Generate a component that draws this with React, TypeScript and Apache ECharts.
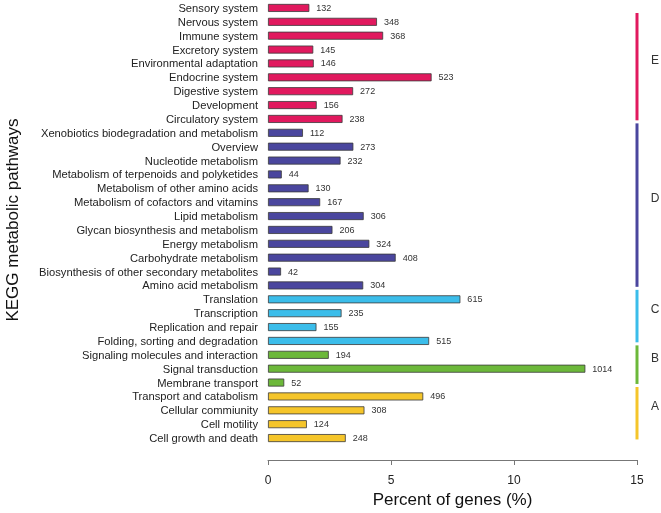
import React, { useEffect, useRef } from "react";
import * as echarts from "echarts";

// Categories listed bottom -> top
const categories = [
  "Cell growth and death",
  "Cell motility",
  "Cellular commiunity",
  "Transport and catabolism",
  "Membrane transport",
  "Signal transduction",
  "Signaling molecules and interaction",
  "Folding, sorting and degradation",
  "Replication and repair",
  "Transcription",
  "Translation",
  "Amino acid metabolism",
  "Biosynthesis of other secondary metabolites",
  "Carbohydrate metabolism",
  "Energy metabolism",
  "Glycan biosynthesis and metabolism",
  "Lipid metabolism",
  "Metabolism of cofactors and vitamins",
  "Metabolism of other amino acids",
  "Metabolism of terpenoids and polyketides",
  "Nucleotide metabolism",
  "Overview",
  "Xenobiotics biodegradation and metabolism",
  "Circulatory system",
  "Development",
  "Digestive system",
  "Endocrine system",
  "Environmental adaptation",
  "Excretory system",
  "Immune system",
  "Nervous system",
  "Sensory system",
];

const percents = [
  3.16, 1.58, 3.92, 6.31,
  0.66, 12.9, 2.47,
  6.55, 1.97, 2.99, 7.82,
  3.87, 0.53, 5.19, 4.12, 2.62, 3.89, 2.12, 1.65, 0.56, 2.95, 3.47, 1.42,
  3.03, 1.98, 3.46, 6.65, 1.86, 1.84, 4.68, 4.43, 1.68,
];

const counts = [
  248, 124, 308, 496,
  52, 1014, 194,
  515, 155, 235, 615,
  304, 42, 408, 324, 206, 306, 167, 130, 44, 232, 273, 112,
  238, 156, 272, 523, 146, 145, 368, 348, 132,
];

const groupOf = [
  "A", "A", "A", "A",
  "B", "B", "B",
  "C", "C", "C", "C",
  "D", "D", "D", "D", "D", "D", "D", "D", "D", "D", "D", "D",
  "E", "E", "E", "E", "E", "E", "E", "E", "E",
];

const groupNames = ["A", "B", "C", "D", "E"];
const groupColors: Record<string, string> = {
  A: "#F5C52A",
  B: "#6CB83A",
  C: "#3BBDEA",
  D: "#4A469E",
  E: "#E1195E",
};
const xTicks = [0, 5, 10, 15];

export default function App() {
  const ref = useRef<HTMLDivElement>(null);
  useEffect(() => {
    if (!ref.current) return;
    const chart = echarts.init(ref.current, null, { renderer: "svg" });
    const font = "Liberation Sans, Arial, Helvetica, sans-serif";

    const groupSpans = groupNames.map((g) => {
      const idx = groupOf.map((v, i) => (v === g ? i : -1)).filter((i) => i >= 0);
      return [xTicks[xTicks.length - 1], Math.min(...idx), Math.max(...idx), groupNames.indexOf(g)];
    });

    chart.setOption({
      animation: false,
      textStyle: { fontFamily: font },
      grid: { left: 268, right: 24, top: 1, bottom: 66, containLabel: false },
      xAxis: {
        type: "value",
        min: 0,
        max: 15,
        interval: 5,
        offset: 15,
        axisLine: { show: true, lineStyle: { color: "#777", width: 1 } },
        axisTick: { show: true, length: 5, lineStyle: { color: "#777" } },
        axisLabel: { fontSize: 12, color: "#222", margin: 14, fontFamily: font },
        splitLine: { show: false },
        name: "Percent of genes (%)",
        nameLocation: "middle",
        nameGap: 31,
        nameTextStyle: { fontSize: 17, color: "#111", fontFamily: font },
      },
      yAxis: {
        type: "category",
        data: categories,
        axisLine: { show: false },
        axisTick: { show: false },
        axisLabel: { interval: 0, fontSize: 11.2, color: "#222", margin: 10, fontFamily: font },
      },
      graphic: [
        {
          type: "text",
          x: 12,
          y: 220,
          rotation: Math.PI / 2,
          style: {
            text: "KEGG metabolic pathways",
            fontSize: 17,
            fontFamily: font,
            fill: "#111",
            align: "center",
            verticalAlign: "middle",
          },
        },
      ],
      series: [
        {
          type: "bar",
          barWidth: 8,
          data: percents.map((v, i) => ({
            value: v,
            itemStyle: { color: groupColors[groupOf[i]], borderColor: "#3a3a3a", borderWidth: 0.8 },
          })),
          label: {
            show: true,
            position: "right",
            distance: 7,
            fontSize: 9,
            color: "#333",
            fontFamily: font,
            formatter: (p: any) => String(counts[p.dataIndex]),
          },
        },
        {
          type: "custom",
          clip: false,
          encode: { x: 0, y: 1 },
          data: groupSpans,
          renderItem: (params: any, api: any) => {
            const lo = api.coord([api.value(0), api.value(1)]);
            const hi = api.coord([api.value(0), api.value(2)]);
            const band = api.size([0, 1])[1];
            const top = Math.max(hi[1] - 0.68 * band, params.coordSys.y + 12);
            const bottom = lo[1] + 0.1 * band;
            const g = groupNames[api.value(3)];
            return {
              type: "group",
              children: [
                {
                  type: "line",
                  shape: { x1: lo[0], y1: top, x2: lo[0], y2: bottom },
                  style: { stroke: groupColors[g], lineWidth: 3 },
                },
                {
                  type: "text",
                  x: lo[0] + 18,
                  y: (top + bottom) / 2 - 7,
                  style: {
                    text: g,
                    fontSize: 12,
                    fontFamily: font,
                    fill: "#333",
                    align: "center",
                    verticalAlign: "middle",
                  },
                },
              ],
            };
          },
        },
      ],
    });
    return () => chart.dispose();
  }, []);
  return <div ref={ref} style={{ position: "fixed", left: 0, top: 0, width: 661, height: 513 }} />;
}
